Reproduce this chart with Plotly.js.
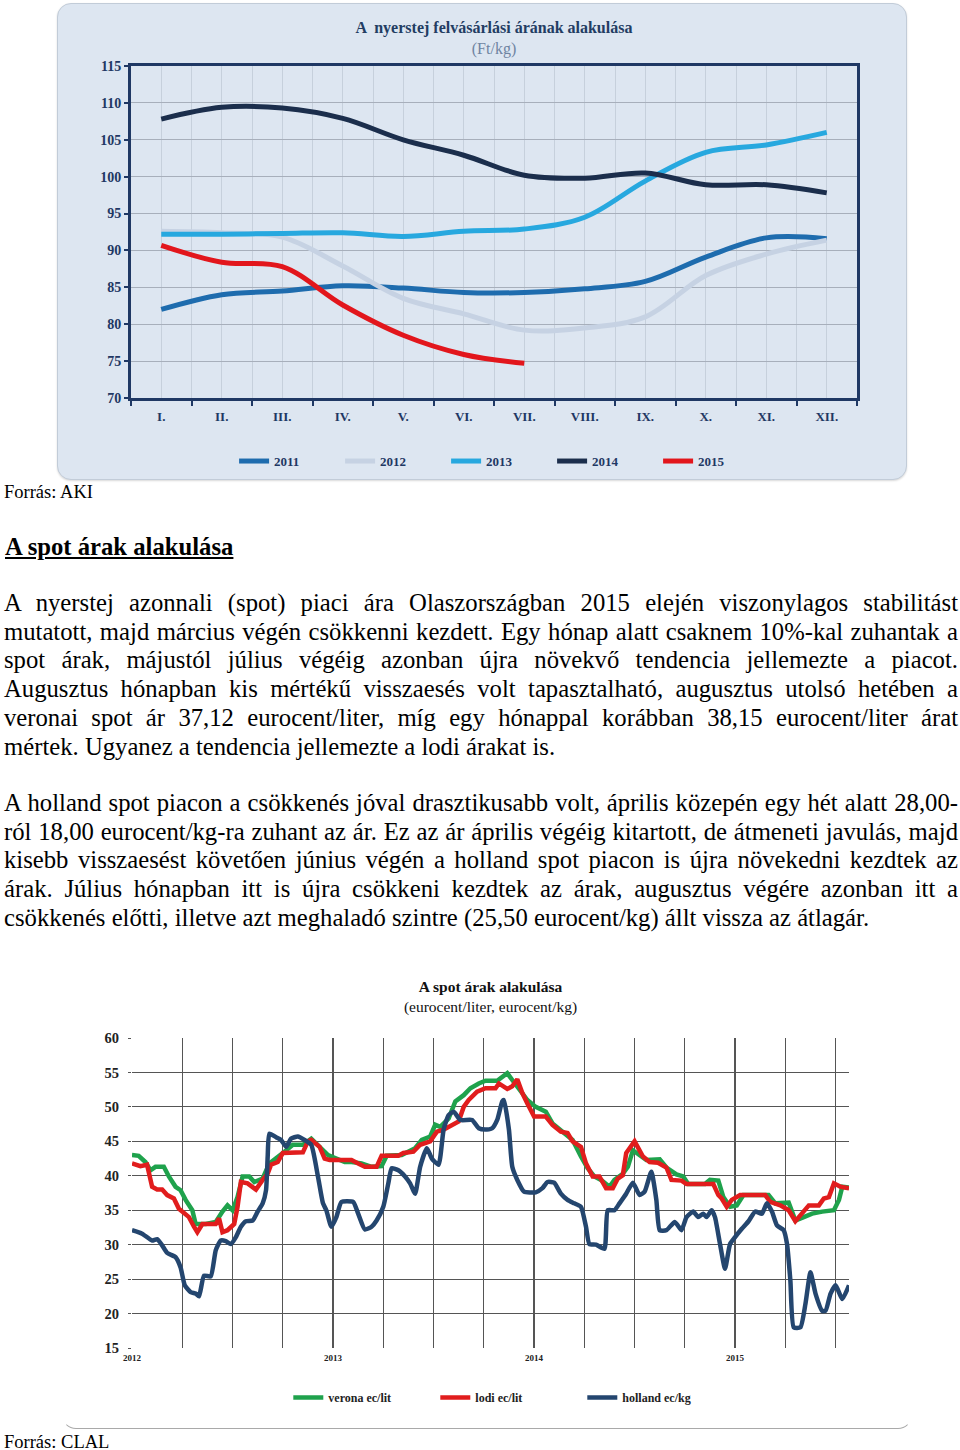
<!DOCTYPE html>
<html>
<head>
<meta charset="utf-8">
<script src="https://cdn.plot.ly/plotly-3.0.1.min.js"></script>
<style>
  html, body { margin: 0; padding: 0; }
  body { width: 960px; height: 1450px; position: relative; background: #ffffff; font-family: "Liberation Serif", "Times New Roman", serif; color: #000; overflow: hidden; }
  #box1 { position: absolute; left: 57px; top: 3px; width: 850px; height: 477px; background: #dde6f1; border: 1px solid #c2ccd8; border-radius: 14px; box-sizing: border-box; box-shadow: 0 1px 2px rgba(0,0,0,0.15); }
  #chart1 { position: absolute; left: 57px; top: 3px; width: 850px; height: 477px; }
  #box2 { position: absolute; left: 62px; top: 962px; width: 850px; height: 467px; border: 1px solid transparent; border-bottom: 1px solid #a9a9a9; border-radius: 14px; box-sizing: border-box; }
  #chart2 { position: absolute; left: 65px; top: 962px; width: 837px; height: 466px; }
  .src { position: absolute; left: 4px; font-size: 18.5px; line-height: 21px; white-space: nowrap; }
  .head { position: absolute; left: 5px; font-size: 24.7px; line-height: 28.7px; font-weight: bold; text-decoration: underline; white-space: nowrap; }
  .para { position: absolute; left: 4px; width: 954px; font-size: 24.7px; line-height: 28.7px; }
  .para div { white-space: nowrap; text-align: justify; text-align-last: justify; }
  .para div.last { text-align: left; text-align-last: left; }
</style>
</head>
<body>
<div id="box1"></div>
<div id="chart1"></div>

<div class="src" style="top:482px;">Forrás: AKI</div>
<div class="head" style="top:533px;">A spot árak alakulása</div>

<div class="para" style="top:589px;">
  <div>A nyerstej azonnali (spot) piaci ára Olaszországban 2015 elején viszonylagos stabilitást</div>
  <div>mutatott, majd március végén csökkenni kezdett. Egy hónap alatt csaknem 10%-kal zuhantak a</div>
  <div>spot árak, májustól július végéig azonban újra növekvő tendencia jellemezte a piacot.</div>
  <div>Augusztus hónapban kis mértékű visszaesés volt tapasztalható, augusztus utolsó hetében a</div>
  <div>veronai spot ár 37,12 eurocent/liter, míg egy hónappal korábban 38,15 eurocent/liter árat</div>
  <div class="last">mértek. Ugyanez a tendencia jellemezte a lodi árakat is.</div>
</div>

<div class="para" style="top:789px;">
  <div>A holland spot piacon a csökkenés jóval drasztikusabb volt, április közepén egy hét alatt 28,00-</div>
  <div>ról 18,00 eurocent/kg-ra zuhant az ár. Ez az ár április végéig kitartott, de átmeneti javulás, majd</div>
  <div>kisebb visszaesést követően június végén a holland spot piacon is újra növekedni kezdtek az</div>
  <div>árak. Július hónapban itt is újra csökkeni kezdtek az árak, augusztus végére azonban itt a</div>
  <div class="last">csökkenés előtti, illetve azt meghaladó szintre (25,50 eurocent/kg) állt vissza az átlagár.</div>
</div>

<div id="box2"></div>
<div id="chart2"></div>
<div class="src" style="top:1432px;">Forrás: CLAL</div>

<script>
// ---------- Chart 1: A nyerstej felvásárlási árának alakulása (Ft/kg) ----------
const monthLabels = ['I.', 'II.', 'III.', 'IV.', 'V.', 'VI.', 'VII.', 'VIII.', 'IX.', 'X.', 'XI.', 'XII.'];
const years1 = ['2011', '2012', '2013', '2014', '2015'];
const price2011 = [82.0, 84.0, 84.5, 85.2, 84.9, 84.3, 84.3, 84.8, 85.8, 89.1, 91.7, 91.6];
const price2012 = [92.6, 92.4, 91.8, 87.9, 83.5, 81.4, 79.2, 79.5, 81.0, 86.6, 89.5, 91.4];
const price2013 = [92.2, 92.2, 92.3, 92.4, 91.9, 92.6, 92.9, 94.5, 99.4, 103.3, 104.3, 106.0];
const price2014 = [107.8, 109.4, 109.3, 107.9, 105.0, 102.9, 100.2, 99.8, 100.5, 98.9, 98.9, 97.8];
const price2015 = [90.7, 88.4, 87.8, 82.6, 78.5, 75.9, 74.7];

// ---------- Chart 2: A spot árak alakulása ----------
// x = months elapsed since 1 January 2012
const yearTickLabels = ['2012', '2013', '2014', '2015'];
const veronaMonths = [0, 0.4, 0.8, 1.1, 1.4, 1.9, 2.2, 2.6, 2.9, 3.2, 3.6, 3.8, 4.4, 5.0, 5.4, 5.7, 6.0, 6.3, 6.6, 7.0, 7.3, 7.8, 8.2, 8.6, 9.1, 9.6, 10.2, 10.7, 11.1, 11.7, 12.7, 13.1, 13.7, 14.3, 14.9, 15.2, 16.1, 16.9, 17.3, 17.8, 18.1, 18.4, 18.9, 19.3, 19.8, 20.2, 20.7, 21.1, 21.8, 22.4, 22.7, 23.1, 23.6, 24.1, 24.7, 25.1, 25.7, 26.3, 26.8, 27.2, 27.6, 28.0, 28.5, 28.8, 29.3, 29.6, 29.9, 30.3, 30.7, 31.5, 31.9, 32.5, 32.9, 33.2, 34.2, 34.5, 35.0, 35.3, 35.7, 36.1, 36.5, 38.0, 38.4, 39.2, 39.6, 40.1, 40.6, 41.2, 41.9, 42.2, 42.4, 42.8];
const veronaValues = [43.0, 42.9, 42.0, 40.8, 41.3, 41.3, 39.9, 38.4, 37.9, 36.5, 35.0, 33.0, 33.0, 33.3, 34.8, 35.7, 35.0, 36.9, 39.9, 39.9, 39.1, 39.6, 41.8, 42.5, 43.5, 44.5, 44.5, 45.4, 44.5, 43.0, 42.0, 42.0, 41.8, 41.3, 41.4, 42.9, 43.0, 44.0, 45.2, 45.7, 47.4, 47.1, 48.3, 50.8, 51.7, 52.7, 53.4, 53.8, 53.8, 54.9, 53.9, 52.5, 51.0, 50.0, 49.3, 47.6, 46.4, 45.2, 42.8, 41.1, 39.9, 39.4, 38.4, 39.4, 40.3, 41.3, 43.7, 43.0, 42.3, 42.4, 41.2, 40.2, 39.9, 38.8, 38.8, 39.4, 39.3, 36.9, 35.5, 35.7, 37.2, 37.2, 36.0, 36.1, 33.5, 34.0, 34.5, 34.8, 35.0, 36.5, 38.4, 38.3];

const lodiMonths = [0, 0.5, 0.9, 1.2, 1.5, 1.8, 2.1, 2.5, 2.8, 3.1, 3.4, 3.7, 3.9, 4.2, 5.0, 5.2, 5.4, 5.7, 6.1, 6.3, 6.5, 6.9, 7.4, 7.8, 8.1, 8.3, 8.7, 9.0, 10.2, 10.5, 10.7, 11.2, 11.5, 11.8, 13.1, 13.5, 13.9, 14.6, 14.9, 15.9, 16.2, 16.8, 17.2, 17.8, 18.2, 18.6, 19.1, 19.5, 19.8, 20.1, 20.6, 21.1, 21.7, 21.9, 22.4, 22.7, 23.0, 23.3, 23.6, 24.0, 24.7, 25.1, 25.6, 26.0, 26.3, 26.8, 27.1, 27.5, 27.9, 28.3, 28.7, 29.0, 29.3, 29.5, 30.0, 30.5, 30.9, 31.4, 31.9, 32.2, 32.8, 33.1, 34.7, 35.0, 35.2, 35.5, 35.8, 36.3, 37.8, 38.1, 38.7, 39.2, 39.6, 39.9, 40.4, 41.0, 41.3, 41.6, 41.9, 42.3, 42.8];
const lodiValues = [41.8, 41.4, 41.6, 38.4, 38.0, 38.0, 37.2, 36.7, 35.2, 34.5, 34.0, 32.6, 31.8, 33.0, 33.0, 33.8, 31.8, 32.1, 33.0, 35.5, 39.1, 38.9, 38.0, 39.4, 40.3, 41.6, 42.0, 43.3, 43.4, 45.0, 45.2, 44.2, 42.5, 42.3, 42.3, 41.8, 41.3, 41.3, 42.9, 42.9, 43.3, 43.5, 44.5, 45.0, 46.4, 46.7, 47.4, 47.9, 50.0, 51.0, 52.2, 52.7, 52.7, 53.4, 52.6, 53.0, 54.0, 52.0, 50.5, 48.6, 48.6, 47.4, 46.4, 46.2, 45.0, 44.2, 41.8, 39.9, 39.9, 38.2, 38.2, 39.6, 40.1, 43.3, 45.0, 42.8, 42.0, 41.9, 41.2, 39.4, 39.3, 38.8, 38.8, 37.2, 36.7, 35.5, 36.5, 37.2, 37.2, 36.2, 35.7, 35.0, 33.4, 34.3, 35.7, 35.7, 36.7, 36.9, 38.9, 38.4, 38.2];

const hollandMonths = [0, 0.6, 1.2, 1.5, 1.8, 2.1, 2.6, 2.9, 3.15, 3.5, 3.8, 4.0, 4.3, 4.7, 5.0, 5.3, 5.6, 5.9, 6.2, 6.5, 6.8, 7.2, 7.5, 7.8, 8.0, 8.1, 8.2, 8.6, 8.9, 9.2, 9.5, 9.9, 10.3, 10.7, 11.1, 11.4, 11.6, 11.9, 12.2, 12.5, 13.2, 13.5, 13.9, 14.3, 14.6, 15.0, 15.3, 15.5, 15.9, 16.3, 16.6, 16.9, 17.2, 17.6, 17.9, 18.3, 18.6, 18.9, 19.2, 19.6, 20.3, 20.7, 21.1, 21.5, 21.8, 22.1, 22.2, 22.5, 22.7, 23.0, 23.4, 24.1, 24.5, 24.8, 25.2, 25.6, 26.0, 26.4, 26.8, 27.1, 27.3, 27.7, 28.2, 28.4, 28.8, 29.1, 29.5, 29.9, 30.3, 30.6, 31.0, 31.3, 31.5, 31.9, 32.4, 32.8, 33.1, 33.5, 33.8, 34.1, 34.3, 34.6, 34.8, 35.1, 35.4, 35.7, 36.0, 36.4, 36.8, 37.2, 37.6, 37.9, 38.2, 38.5, 38.9, 39.1, 39.3, 39.5, 39.9, 40.2, 40.5, 40.8, 41.2, 41.4, 41.7, 42.0, 42.4, 42.8];
const hollandValues = [32.1, 31.6, 30.6, 30.8, 29.9, 28.8, 28.2, 26.7, 24.1, 23.1, 22.9, 22.5, 25.5, 25.4, 29.2, 30.6, 30.5, 30.1, 31.1, 32.6, 33.4, 33.5, 34.8, 36.0, 37.9, 42.8, 46.1, 45.6, 45.2, 44.2, 45.4, 45.7, 45.2, 44.5, 39.9, 36.0, 35.0, 32.6, 34.0, 36.2, 36.2, 34.5, 32.2, 32.6, 33.5, 35.5, 38.9, 41.1, 40.8, 39.9, 38.9, 37.4, 41.3, 44.0, 42.5, 41.6, 46.7, 48.8, 49.3, 48.1, 48.1, 46.9, 46.7, 46.9, 48.1, 50.8, 51.0, 46.7, 41.3, 39.4, 37.7, 37.6, 38.2, 39.1, 39.0, 37.4, 36.5, 36.0, 35.5, 32.6, 30.1, 30.0, 29.4, 35.0, 35.0, 36.0, 37.4, 39.0, 37.2, 37.7, 40.6, 36.5, 32.1, 32.1, 33.3, 32.1, 34.0, 34.8, 34.0, 34.5, 34.0, 35.0, 34.0, 30.1, 26.5, 30.1, 31.1, 32.3, 33.4, 34.8, 34.5, 36.0, 34.8, 32.8, 32.1, 30.1, 24.8, 18.0, 18.0, 21.4, 26.0, 22.9, 20.4, 20.4, 22.9, 24.1, 22.1, 24.1];

const serif = 'Liberation Serif, Times New Roman, serif';
const navy = '#1f3864';

// ----- Chart 1 -----
const monthPos = monthLabels.map((_, i) => i + 1);
const boundaries = [];
for (let i = 0; i <= monthLabels.length; i++) boundaries.push(i + 0.5);
const colors1 = ['#1e6cae', '#c6d2e3', '#27a8df', '#1b2e4c', '#e2161c'];
const series1 = [price2011, price2012, price2013, price2014, price2015];

const traces1 = series1.map((vals, k) => ({
  x: monthPos.slice(0, vals.length),
  y: vals,
  name: years1[k],
  type: 'scatter',
  mode: 'lines',
  line: { color: colors1[k], width: 5, shape: 'spline', smoothing: 1 },
  hoverinfo: 'skip'
}));

const layout1 = {
  width: 850, height: 477,
  paper_bgcolor: 'rgba(0,0,0,0)',
  plot_bgcolor: '#dde6f1',
  margin: { l: 74, r: 50, t: 63, b: 82, pad: 0, autoexpand: false },
  title: {
    text: '<b>A  nyerstej felvásárlási árának alakulása</b><br><span style="color:#6f84a1;">(Ft/kg)</span>',
    font: { family: serif, size: 16, color: '#233d63' },
    x: 0.5, xref: 'paper', xanchor: 'center',
    y: 1 - 30 / 477, yref: 'container', yanchor: 'top'
  },
  xaxis: {
    range: [0.5, 12.5],
    tickmode: 'array', tickvals: monthPos, ticktext: monthLabels,
    ticks: 'outside', ticklen: 4, tickcolor: 'rgba(0,0,0,0)',
    showgrid: true, gridcolor: '#c6d0dc', gridwidth: 1,
    showline: true, linecolor: navy, linewidth: 3, mirror: true,
    zeroline: false, fixedrange: true,
    tickfont: { family: serif, size: 13, color: navy, weight: 'bold' },
    minor: { tickmode: 'array', tickvals: boundaries, ticks: 'outside', ticklen: 5, tickwidth: 2, tickcolor: navy, showgrid: true, gridcolor: '#c6d0dc', gridwidth: 1 }
  },
  yaxis: {
    range: [70, 115], tick0: 70, dtick: 5,
    ticks: 'outside', ticklen: 4, tickwidth: 2, tickcolor: navy,
    showgrid: true, gridcolor: '#a7afbb', gridwidth: 1.2,
    showline: true, linecolor: navy, linewidth: 3, mirror: true,
    zeroline: false, fixedrange: true,
    tickfont: { family: serif, size: 14, color: navy, weight: 'bold' }
  },
  showlegend: true,
  legend: {
    orientation: 'h', x: 0.142, xanchor: 'left', y: -0.19, yanchor: 'middle',
    font: { family: serif, size: 13, color: navy, weight: 'bold' },
    bgcolor: 'rgba(0,0,0,0)', itemwidth: 30, entrywidth: 61, entrywidthmode: 'pixels',
    traceorder: 'normal'
  }
};

Plotly.newPlot('chart1', traces1, layout1, { displayModeBar: false, staticPlot: true });

// ----- Chart 2 -----
const quarterTicks = [];
const quarterText = [];
for (let q = 0; q <= 14; q++) {
  quarterTicks.push(q * 3);
  quarterText.push(q % 4 === 0 ? yearTickLabels[q / 4] : '');
}

const traces2 = [
  { x: veronaMonths, y: veronaValues, name: 'verona ec/lit', type: 'scatter', mode: 'lines',
    line: { color: '#1fa24c', width: 4.5 }, hoverinfo: 'skip' },
  { x: lodiMonths, y: lodiValues, name: 'lodi ec/lit', type: 'scatter', mode: 'lines',
    line: { color: '#e11d1d', width: 4.5 }, hoverinfo: 'skip' },
  { x: hollandMonths, y: hollandValues, name: 'holland ec/kg', type: 'scatter', mode: 'lines',
    line: { color: '#24466f', width: 4.5, shape: 'spline', smoothing: 0.5 }, hoverinfo: 'skip' }
];

const layout2 = {
  width: 837, height: 466,
  paper_bgcolor: 'rgba(0,0,0,0)',
  plot_bgcolor: '#ffffff',
  margin: { l: 67, r: 53, t: 76, b: 80, pad: 0, autoexpand: false },
  title: {
    text: '<b>A spot árak alakulása</b><br>(eurocent/liter, eurocent/kg)',
    font: { family: serif, size: 15.5, color: '#111' },
    x: 0.5, xref: 'paper', xanchor: 'center',
    y: 1 - 30 / 466, yref: 'container', yanchor: 'top'
  },
  xaxis: {
    range: [0, 42.8],
    tickmode: 'array', tickvals: quarterTicks, ticktext: quarterText,
    ticks: '', showgrid: true, gridcolor: '#555555', gridwidth: 1.2,
    showline: false, zeroline: false, fixedrange: true,
    ticklabelstandoff: 3,
    tickfont: { family: serif, size: 9, color: '#222', weight: 'bold' }
  },
  yaxis: {
    range: [15, 60], tick0: 15, dtick: 5,
    ticks: 'outside', ticklen: 3, tickcolor: '#555555',
    showgrid: true, gridcolor: '#555555', gridwidth: 1.2,
    showline: false, zeroline: false, fixedrange: true,
    ticklabelstandoff: 6,
    tickfont: { family: serif, size: 14.5, color: '#222', weight: 'bold' }
  },
  showlegend: true,
  legend: {
    orientation: 'h', x: 0.218, xanchor: 'left', y: -0.16, yanchor: 'middle',
    font: { family: serif, size: 12, color: '#222', weight: 'bold' },
    bgcolor: 'rgba(0,0,0,0)', itemwidth: 30, entrywidth: 102, entrywidthmode: 'pixels',
    traceorder: 'normal'
  }
};

Plotly.newPlot('chart2', traces2, layout2, { displayModeBar: false, staticPlot: true });
</script>
</body>
</html>
